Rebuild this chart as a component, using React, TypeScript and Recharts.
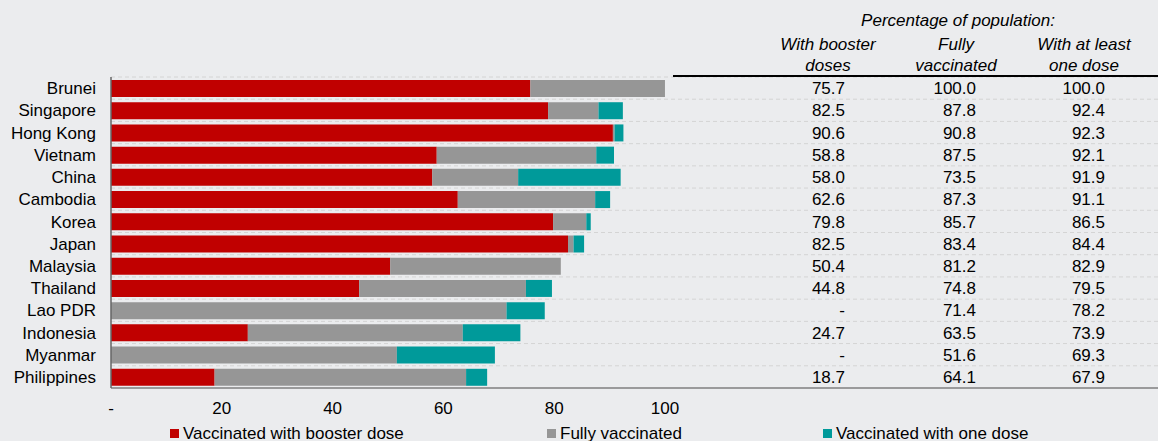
import React from 'react';
import { BarChart, Bar, XAxis, YAxis, CartesianGrid, Legend } from 'recharts';

const countries = [
  'Brunei', 'Singapore', 'Hong Kong', 'Vietnam', 'China', 'Cambodia', 'Korea',
  'Japan', 'Malaysia', 'Thailand', 'Lao PDR', 'Indonesia', 'Myanmar', 'Philippines',
];

// bar ends as they are drawn in the chart (% of population)
const boosterBar = [75.7, 78.9, 90.6, 58.8, 58.0, 62.6, 79.8, 82.5, 50.4, 44.8, 0, 24.7, 0, 18.7];
const fullyBar = [100.0, 88.0, 90.9, 87.6, 73.5, 87.4, 85.8, 83.5, 81.2, 74.9, 71.4, 63.5, 51.6, 64.1];
const oneDoseBar = [100.0, 92.4, 92.5, 90.8, 92.0, 90.1, 86.6, 85.4, 81.2, 79.6, 78.3, 73.9, 69.3, 67.9];

// table on the right
const boosterCol = ['75.7', '82.5', '90.6', '58.8', '58.0', '62.6', '79.8', '82.5', '50.4', '44.8', '-', '24.7', '-', '18.7'];
const fullyCol = ['100.0', '87.8', '90.8', '87.5', '73.5', '87.3', '85.7', '83.4', '81.2', '74.8', '71.4', '63.5', '51.6', '64.1'];
const oneDoseCol = ['100.0', '92.4', '92.3', '92.1', '91.9', '91.1', '86.5', '84.4', '82.9', '79.5', '78.2', '73.9', '69.3', '67.9'];

const xTicks = [0, 20, 40, 60, 80, 100];

const RED = '#c00000';
const GRAY = '#969696';
const TEAL = '#009a9a';
const BG = '#ebecee';
const FONT = 'Arial, "Liberation Sans", sans-serif';

const data = countries.map((name, i) => ({
  name,
  booster: boosterBar[i],
  fully: fullyBar[i] - boosterBar[i],
  one: oneDoseBar[i] - fullyBar[i],
}));

const legendItems = [
  { label: 'Vaccinated with booster dose', color: RED, width: 377 },
  { label: 'Fully vaccinated', color: GRAY, width: 276 },
  { label: 'Vaccinated with one dose', color: TEAL, width: 300 },
];

const RowTick = (props: any) => {
  const { y, payload } = props;
  const i = countries.indexOf(payload.value);
  const common = { y, dy: '0.36em', fontSize: 17, fill: '#000', textAnchor: 'end' as const };
  return (
    <g>
      <text x={96} {...common}>{payload.value}</text>
      <text x={845} {...common}>{boosterCol[i]}</text>
      <text x={976} {...common}>{fullyCol[i]}</text>
      <text x={1105} {...common}>{oneDoseCol[i]}</text>
    </g>
  );
};

const LegendContent = () => (
  <div style={{ display: 'flex', paddingLeft: 170, fontSize: 17, lineHeight: '17px', paddingTop: 7 }}>
    {legendItems.map((it) => (
      <div key={it.label} style={{ width: it.width, display: 'flex', alignItems: 'center' }}>
        <span style={{ width: 9, height: 9, background: it.color, display: 'inline-block', marginRight: 4 }} />
        <span>{it.label}</span>
      </div>
    ))}
  </div>
);

const headerStyle: React.CSSProperties = {
  position: 'absolute',
  fontStyle: 'italic',
  fontSize: 17,
  lineHeight: '21px',
  textAlign: 'center',
  color: '#000',
  width: 160,
};

const App = () => {
  return (
    <div style={{ position: 'absolute', left: 0, top: 0, width: 1158, height: 441, background: BG, fontFamily: FONT }}>
      <BarChart
        width={1158}
        height={441}
        data={data}
        layout="vertical"
        margin={{ top: 77, right: 0, bottom: 0, left: 0 }}
        barSize={17}
      >
        <CartesianGrid
          vertical={false}
          stroke="#d4d4d4"
          strokeDasharray="4 3"
          horizontalCoordinatesGenerator={({ offset }: any) =>
            countries.map((_, i) => offset.top + (i * offset.height) / countries.length)
          }
        />
        <XAxis
          type="number"
          domain={[0, 189]}
          ticks={xTicks}
          tickFormatter={(v: number) => (v === 0 ? '-' : String(v))}
          axisLine={{ stroke: '#7f7f7f', strokeWidth: 1.5 }}
          tickLine={false}
          tickSize={0}
          tickMargin={14}
          height={30}
          tick={{ fontSize: 17, fill: '#000' }}
        />
        <YAxis
          type="category"
          dataKey="name"
          width={111}
          axisLine={{ stroke: '#666', strokeWidth: 1.5 }}
          tickLine={false}
          tick={<RowTick />}
          interval={0}
        />
        <Legend verticalAlign="bottom" height={23} content={<LegendContent />} wrapperStyle={{ left: 0, width: 1158 }} />
        <Bar dataKey="booster" stackId="a" fill={RED} isAnimationActive={false} />
        <Bar dataKey="fully" stackId="a" fill={GRAY} isAnimationActive={false} />
        <Bar dataKey="one" stackId="a" fill={TEAL} isAnimationActive={false} />
      </BarChart>
      <div style={{ ...headerStyle, left: 858, top: 10, width: 200 }}>Percentage of population:</div>
      <div style={{ ...headerStyle, left: 748, top: 34 }}>With booster<br />doses</div>
      <div style={{ ...headerStyle, left: 876, top: 34 }}>Fully<br />vaccinated</div>
      <div style={{ ...headerStyle, left: 1004, top: 34 }}>With at least<br />one dose</div>
      <div style={{ position: 'absolute', left: 673, top: 75, width: 485, height: 2, background: '#000' }} />
    </div>
  );
};

export default App;
